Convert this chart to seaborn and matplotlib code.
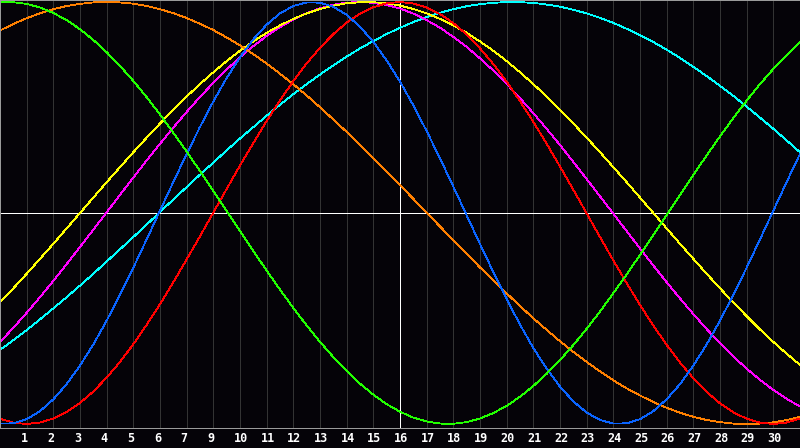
import numpy as np
import pandas as pd
import matplotlib
matplotlib.use('Agg')
import matplotlib.pyplot as plt
import matplotlib.transforms as mtransforms
import seaborn as sns

# ค่าของแต่ละรอบ อ่านจากภาพทุก ๆ ครึ่งวัน (วัน 0 ถึง 30) หน่วยเป็นส่วนในพัน (-1000..1000)
half_days = np.arange(61) / 2

physical = [-998, -997, -977, -939, -883, -811, -723, -623, -510, -388, -259, -125, 11, 147, 280,
            408, 529, 640, 738, 823, 893, 946, 981, 998, 997, 977, 939, 883, 811, 723, 623, 510,
            388, 259, 125, -11, -147, -280, -408, -529, -640, -738, -823, -893, -946, -981, -998,
            -997, -977, -939, -883, -811, -723, -623, -510, -388, -259, -125, 11, 147, 280]
emotional = [-975, -994, -1000, -993, -974, -943, -900, -846, -780, -706, -622, -530, -432, -328,
             -220, -110, 2, 114, 225, 332, 436, 534, 625, 709, 783, 848, 902, 945, 975, 994, 1000,
             993, 974, 943, 900, 846, 780, 706, 622, 530, 432, 328, 220, 110, -2, -114, -225,
             -332, -436, -534, -625, -709, -783, -848, -902, -945, -975, -994, -1000, -993, -974]
intellectual = [998, 999, 991, 974, 948, 914, 871, 820, 762, 697, 626, 549, 467, 380, 291, 199,
                105, 10, -86, -180, -273, -363, -450, -533, -611, -683, -749, -809, -861, -906,
                -942, -970, -988, -998, -999, -991, -974, -948, -914, -871, -820, -762, -697,
                -626, -549, -467, -380, -291, -199, -105, -10, 86, 180, 273, 363, 450, 533, 611,
                683, 749, 809]
aesthetic = [-424, -357, -288, -217, -146, -73, 0, 73, 146, 217, 288, 357, 424, 489, 552, 611,
             667, 720, 769, 813, 854, 889, 920, 946, 967, 983, 994, 999, 999, 994, 983, 967, 946,
             920, 889, 854, 813, 769, 720, 667, 611, 552, 489, 424, 357, 288, 217, 146, 73, 0,
             -73, -146, -217, -288, -357, -424, -489, -552, -611, -667, -720]
intuitive = [-612, -544, -473, -399, -322, -242, -161, -79, 3, 86, 168, 249, 328, 405, 479, 550,
             617, 680, 738, 791, 839, 881, 917, 947, 970, 987, 997, 1000, 996, 986, 969, 945, 914,
             878, 835, 787, 733, 675, 612, 544, 473, 399, 322, 242, 161, 79, -3, -86, -168, -249,
             -328, -405, -479, -550, -617, -680, -738, -791, -839, -881, -917]
spiritual = [-649, -603, -555, -504, -452, -399, -344, -288, -230, -172, -114, -55, 5, 64, 123,
             182, 239, 297, 353, 407, 461, 513, 563, 611, 656, 700, 741, 780, 815, 848, 878, 905,
             928, 949, 966, 980, 990, 996, 1000, 999, 996, 988, 978, 963, 946, 925, 901, 873, 843,
             810, 774, 735, 693, 649, 603, 555, 504, 452, 399, 344, 288]
awareness = [865, 896, 923, 947, 966, 981, 991, 998, 1000, 998, 992, 981, 966, 947, 924, 897, 867,
             832, 794, 753, 708, 660, 610, 557, 501, 443, 384, 323, 260, 196, 132, 67, 1, -64,
             -129, -194, -258, -320, -381, -441, -499, -554, -608, -658, -706, -751, -793, -831,
             -865, -896, -923, -947, -966, -981, -991, -998, -1000, -998, -992, -981, -966]

# ป้ายวันที่ใต้กราฟ (ในภาพไม่มีเลข 8)
day_labels = [1, 2, 3, 4, 5, 6, 7, 9, 10, 11, 12, 13, 14, 15, 16, 17, 18, 19, 20,
              21, 22, 23, 24, 25, 26, 27, 28, 29, 30]

cycles = {
    'spiritual': spiritual,
    'intuitive': intuitive,
    'aesthetic': aesthetic,
    'awareness': awareness,
    'emotional': emotional,
    'physical': physical,
    'intellectual': intellectual,
}
colors = {'physical': '#0a64ff', 'emotional': '#ff0000', 'intellectual': '#22ff00',
          'aesthetic': '#ffff00', 'intuitive': '#ff00ff', 'spiritual': '#00ffff',
          'awareness': '#ff8000'}

frames = [pd.DataFrame({'day': half_days, 'value': np.array(vals) / 1000, 'cycle': name})
          for name, vals in cycles.items()]
df = pd.concat(frames, ignore_index=True)

bg = '#050308'
fig = plt.figure(figsize=(8, 4.48), dpi=100)
fig.patch.set_facecolor(bg)
ax = fig.add_axes([0, 20 / 448, 1, 428 / 448])
ax.set_facecolor(bg)

# เส้นแบ่งวัน + เส้นกลางสีขาว
for k in range(1, len(day_labels) + 1):
    ax.axvline(k, color='#333333', lw=0.72, zorder=0, antialiased=False)
ax.axhline(0, color='white', lw=0.72, zorder=1, antialiased=False)
ax.axvline(15, color='white', lw=0.72, zorder=1, antialiased=False)

sns.lineplot(data=df, x='day', y='value', hue='cycle', palette=colors, legend=False,
             ax=ax, lw=0.6, antialiased=False, zorder=2, sort=False)

ax.set_xlim(0, 30)
ax.set_ylim(-1.019, 1.0095)
ax.set_xlabel('')
ax.set_ylabel('')
ax.set_yticks([])
ax.set_xticks(range(1, len(day_labels) + 1))
ax.set_xticklabels([str(v) for v in day_labels], color='white', fontsize=8.5,
                   family='DejaVu Sans Mono', fontweight='bold', ha='left')
ax.tick_params(axis='x', length=0, pad=3.0)
shift = mtransforms.ScaledTranslation(-6 / 100, 0, fig.dpi_scale_trans)
for lbl in ax.get_xticklabels():
    lbl.set_transform(lbl.get_transform() + shift)
for s in ax.spines.values():
    s.set_color('#9a9a9a')
    s.set_linewidth(0.72)

fig.savefig('out.png', dpi=100, facecolor=bg)
